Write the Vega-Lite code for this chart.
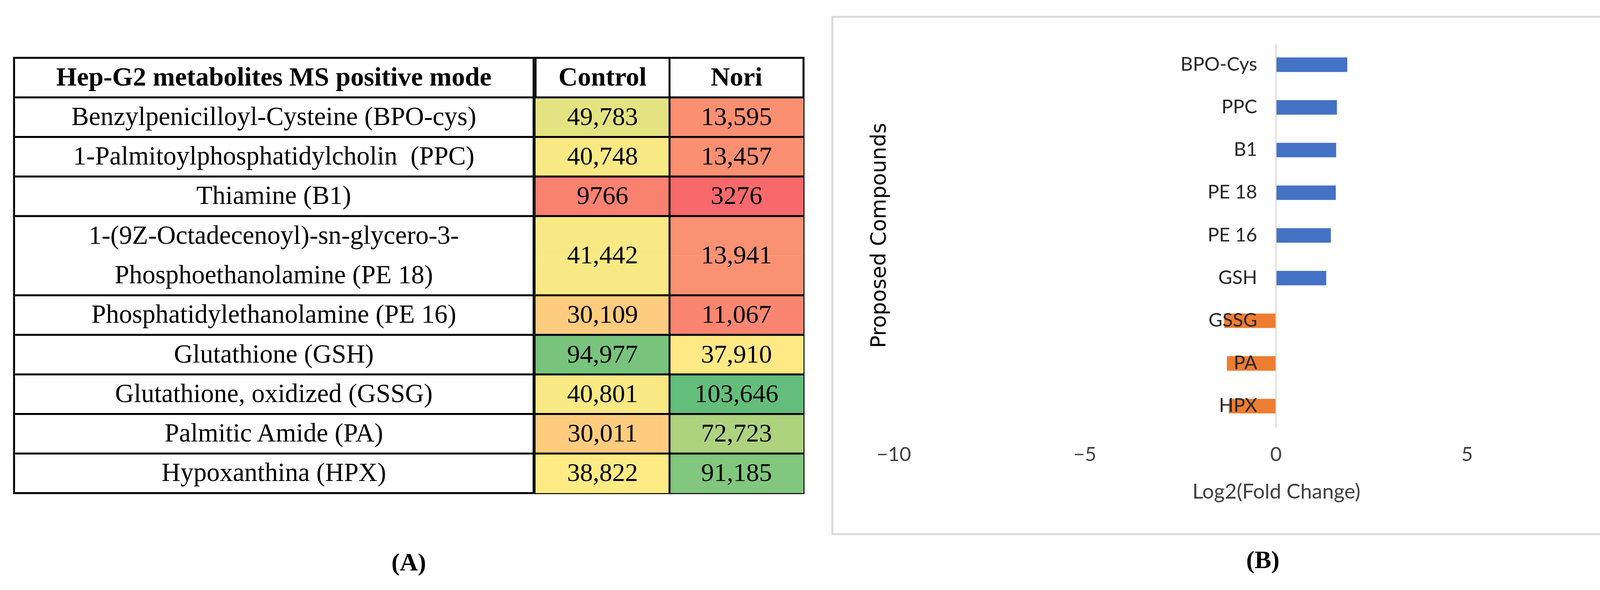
{
  "$schema": "https://vega.github.io/schema/vega-lite/v6.json",
  "padding": {"left": 31, "top": 40, "right": 0, "bottom": 0},
  "background": "white",
  "config": {"view": {"stroke": null}},
  "datasets": {
    "lines": [
      {"slot": "h", "text": "Hep-G2 metabolites MS positive mode"},
      {"slot": "1", "text": "Benzylpenicilloyl-Cysteine (BPO-cys)", "abbr": "BPO-Cys"},
      {"slot": "2", "text": "1-Palmitoylphosphatidylcholin\u00a0 (PPC)", "abbr": "PPC"},
      {"slot": "3", "text": "Thiamine (B1)", "abbr": "B1"},
      {"slot": "4a", "text": "1-(9Z-Octadecenoyl)-sn-glycero-3-", "abbr": "PE 18"},
      {"slot": "4b", "text": "Phosphoethanolamine (PE 18)", "abbr": "PE 18"},
      {"slot": "5", "text": "Phosphatidylethanolamine (PE 16)", "abbr": "PE 16"},
      {"slot": "6", "text": "Glutathione (GSH)", "abbr": "GSH"},
      {"slot": "7", "text": "Glutathione, oxidized (GSSG)", "abbr": "GSSG"},
      {"slot": "8", "text": "Palmitic Amide (PA)", "abbr": "PA"},
      {"slot": "9", "text": "Hypoxanthina (HPX)", "abbr": "HPX"}
    ],
    "metabolites": [
      {"abbr": "BPO-Cys", "slot": "1", "Control": 49783, "Nori": 13595, "log2fc": 1.87},
      {"abbr": "PPC", "slot": "2", "Control": 40748, "Nori": 13457, "log2fc": 1.6},
      {"abbr": "B1", "slot": "3", "Control": 9766, "Nori": 3276, "log2fc": 1.58},
      {"abbr": "PE 18", "slot": "4a", "Control": 41442, "Nori": 13941, "log2fc": 1.57},
      {"abbr": "PE 16", "slot": "5", "Control": 30109, "Nori": 11067, "log2fc": 1.44},
      {"abbr": "GSH", "slot": "6", "Control": 94977, "Nori": 37910, "log2fc": 1.32},
      {"abbr": "GSSG", "slot": "7", "Control": 40801, "Nori": 103646, "log2fc": -1.35},
      {"abbr": "PA", "slot": "8", "Control": 30011, "Nori": 72723, "log2fc": -1.28},
      {"abbr": "HPX", "slot": "9", "Control": 38822, "Nori": 91185, "log2fc": -1.23}
    ]
  },
  "spacing": 66,
  "hconcat": [
    {
      "spacing": 10,
      "vconcat": [
        {
          "width": 1,
          "height": 90,
          "data": {"values": [{"k": 1}]},
          "mark": {"type": "point", "opacity": 0},
          "encoding": {}
        },
        {
          "title": {"text": "(A)", "orient": "bottom", "anchor": "middle", "font": "Liberation Serif", "fontSize": 64, "fontWeight": "bold", "offset": 142, "color": "black"},
          "spacing": -5,
          "hconcat": [
            {
              "width": 1330,
              "height": 1114,
              "view": {"stroke": "black", "strokeWidth": 5},
              "data": {"name": "lines"},
              "layer": [
                {
                  "transform": [{"filter": "datum.slot !== 'h' && datum.slot !== '4b'"}],
                  "mark": {"type": "rule", "stroke": "black", "strokeWidth": 5},
                  "encoding": {
                    "y": {"field": "slot", "type": "nominal", "bandPosition": 0, "axis": null,
                      "scale": {"domain": ["h", "1", "2", "3", "4a", "4b", "5", "6", "7", "8", "9"], "paddingInner": 0, "paddingOuter": 0}}
                  }
                },
                {
                  "transform": [{"filter": "datum.slot === 'h'"}],
                  "mark": {"type": "text", "font": "Liberation Serif", "fontSize": 68, "fontWeight": "bold", "color": "black"},
                  "encoding": {
                    "y": {"field": "slot", "type": "nominal", "axis": null,
                      "scale": {"domain": ["h", "1", "2", "3", "4a", "4b", "5", "6", "7", "8", "9"], "paddingInner": 0, "paddingOuter": 0}},
                    "text": {"field": "text"}
                  }
                },
                {
                  "transform": [{"filter": "datum.slot !== 'h'"}],
                  "mark": {"type": "text", "font": "Liberation Serif", "fontSize": 67, "color": "black"},
                  "encoding": {
                    "y": {"field": "slot", "type": "nominal", "axis": null,
                      "scale": {"domain": ["h", "1", "2", "3", "4a", "4b", "5", "6", "7", "8", "9"], "paddingInner": 0, "paddingOuter": 0}},
                    "text": {"field": "text"}
                  }
                }
              ]
            },
            {
              "width": 686,
              "height": 1114,
              "view": {"stroke": "black", "strokeWidth": 5},
              "layer": [
                {
                  "data": {"name": "lines"},
                  "transform": [
                    {"filter": "isValid(datum.abbr)"},
                    {"lookup": "abbr", "from": {"data": {"name": "metabolites"}, "key": "abbr", "fields": ["Control", "Nori"]}},
                    {"fold": ["Control", "Nori"]}
                  ],
                  "mark": {"type": "rect"},
                  "encoding": {
                    "x": {"field": "key", "type": "nominal", "axis": null,
                      "scale": {"domain": ["Control", "Nori"], "paddingInner": 0, "paddingOuter": 0}},
                    "y": {"field": "slot", "type": "nominal", "axis": null,
                      "scale": {"domain": ["h", "1", "2", "3", "4a", "4b", "5", "6", "7", "8", "9"], "paddingInner": 0, "paddingOuter": 0}},
                    "color": {"field": "value", "type": "quantitative", "legend": null,
                      "scale": {"domain": [3276, 38366, 103646], "range": ["#F8696B", "#FFEB84", "#63BE7B"], "interpolate": "rgb"}}
                  }
                },
                {
                  "data": {"name": "lines"},
                  "transform": [{"filter": "datum.slot !== 'h' && datum.slot !== '4b'"}],
                  "mark": {"type": "rule", "stroke": "black", "strokeWidth": 5},
                  "encoding": {
                    "y": {"field": "slot", "type": "nominal", "bandPosition": 0, "axis": null,
                      "scale": {"domain": ["h", "1", "2", "3", "4a", "4b", "5", "6", "7", "8", "9"], "paddingInner": 0, "paddingOuter": 0}}
                  }
                },
                {
                  "data": {"values": [{"col": "Nori"}]},
                  "mark": {"type": "rule", "stroke": "black", "strokeWidth": 5},
                  "encoding": {
                    "x": {"field": "col", "type": "nominal", "bandPosition": 0, "axis": null,
                      "scale": {"domain": ["Control", "Nori"], "paddingInner": 0, "paddingOuter": 0}}
                  }
                },
                {
                  "data": {"values": [{"col": "Control"}, {"col": "Nori"}]},
                  "mark": {"type": "text", "font": "Liberation Serif", "fontSize": 68, "fontWeight": "bold", "color": "black"},
                  "encoding": {
                    "x": {"field": "col", "type": "nominal", "axis": null,
                      "scale": {"domain": ["Control", "Nori"], "paddingInner": 0, "paddingOuter": 0}},
                    "y": {"datum": "h", "type": "nominal", "axis": null,
                      "scale": {"domain": ["h", "1", "2", "3", "4a", "4b", "5", "6", "7", "8", "9"], "paddingInner": 0, "paddingOuter": 0}},
                    "text": {"field": "col"}
                  }
                },
                {
                  "data": {"name": "metabolites"},
                  "transform": [
                    {"filter": "datum.slot !== '4a'"},
                    {"fold": ["Control", "Nori"]},
                    {"calculate": "datum.value >= 10000 ? format(datum.value, ',') : format(datum.value, 'd')", "as": "label"}
                  ],
                  "mark": {"type": "text", "font": "Liberation Serif", "fontSize": 66, "color": "black"},
                  "encoding": {
                    "x": {"field": "key", "type": "nominal", "axis": null,
                      "scale": {"domain": ["Control", "Nori"], "paddingInner": 0, "paddingOuter": 0}},
                    "y": {"field": "slot", "type": "nominal", "axis": null,
                      "scale": {"domain": ["h", "1", "2", "3", "4a", "4b", "5", "6", "7", "8", "9"], "paddingInner": 0, "paddingOuter": 0}},
                    "text": {"field": "label"}
                  }
                },
                {
                  "data": {"name": "metabolites"},
                  "transform": [
                    {"filter": "datum.slot === '4a'"},
                    {"fold": ["Control", "Nori"]},
                    {"calculate": "datum.value >= 10000 ? format(datum.value, ',') : format(datum.value, 'd')", "as": "label"}
                  ],
                  "mark": {"type": "text", "font": "Liberation Serif", "fontSize": 66, "color": "black"},
                  "encoding": {
                    "x": {"field": "key", "type": "nominal", "axis": null,
                      "scale": {"domain": ["Control", "Nori"], "paddingInner": 0, "paddingOuter": 0}},
                    "y": {"field": "slot", "type": "nominal", "bandPosition": 1, "axis": null,
                      "scale": {"domain": ["h", "1", "2", "3", "4a", "4b", "5", "6", "7", "8", "9"], "paddingInner": 0, "paddingOuter": 0}},
                    "text": {"field": "label"}
                  }
                }
              ]
            }
          ]
        }
      ]
    },
    {
      "width": 2204,
      "height": 1324,
      "view": {"stroke": "#D9D9D9", "strokeWidth": 5, "fill": "white"},
      "title": {"text": "(B)", "orient": "bottom", "anchor": "middle", "font": "Liberation Serif", "fontSize": 64, "fontWeight": "bold", "offset": 36, "color": "black"},
      "data": {"name": "metabolites"},
      "mark": {"type": "bar"},
      "encoding": {
        "y": {
          "field": "abbr", "type": "nominal", "sort": null,
          "scale": {"domain": ["BPO-Cys", "PPC", "B1", "PE 18", "PE 16", "GSH", "GSSG", "PA", "HPX"], "range": [68, 1051], "paddingInner": 0.66, "paddingOuter": 0.33},
          "axis": {
            "orient": "left", "offset": -1135, "ticks": false, "grid": false,
            "domainColor": "#D9D9D9", "domainWidth": 3, "zindex": 1,
            "labelFont": "Lato", "labelFontSize": 49, "labelColor": "#262626", "labelPadding": 48, "labelLimit": 0,
            "title": "Proposed Compounds", "titleFont": "DejaVu Sans", "titleFontSize": 53, "titleFontWeight": "normal", "titleColor": "#000000",
            "titleX": -1016, "titleY": 559, "titleAngle": 270, "titleBaseline": "middle", "titleAlign": "center", "titleLimit": 3000
          }
        },
        "x": {
          "field": "log2fc", "type": "quantitative",
          "scale": {"domain": [-11.6, 10.925], "nice": false},
          "axis": {
            "orient": "bottom", "offset": -232, "values": [-10, -5, 0, 5, 10], "domain": false, "ticks": false, "grid": false,
            "labelFont": "Lato", "labelFontSize": 51, "labelColor": "#404040", "labelPadding": 4, "labelFlush": false,
            "title": "Log2(Fold Change)", "titleFont": "Lato", "titleFontSize": 53, "titleFontWeight": "normal", "titleColor": "#404040",
            "titleX": 1136, "titleY": 124, "titleBaseline": "middle", "titleAlign": "center", "titleLimit": 3000
          }
        },
        "color": {"condition": {"test": "datum.log2fc > 0", "value": "#4472C4"}, "value": "#ED7D31"}
      }
    }
  ]
}
